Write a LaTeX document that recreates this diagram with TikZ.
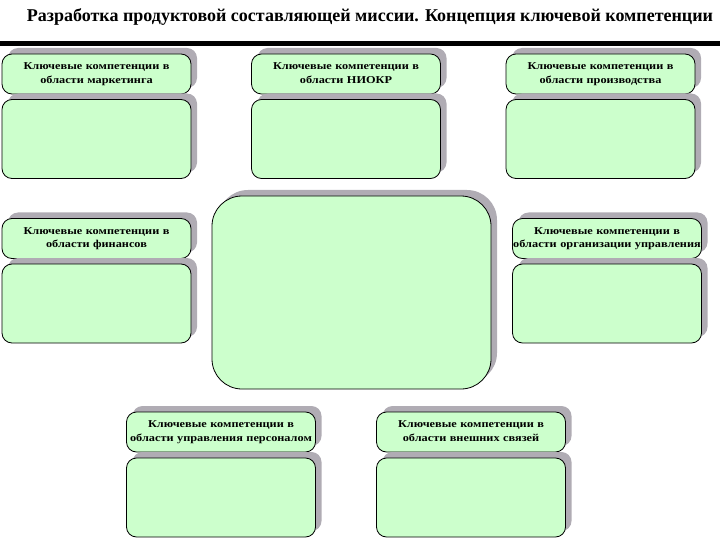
\documentclass[tikz,border=0pt]{standalone}
\usepackage{fontspec}
\setmainfont{Liberation Serif}
\newfontfamily\boxfont[FakeStretch=1.17]{Liberation Serif}
\usetikzlibrary{shadows}
\definecolor{boxgreen}{RGB}{204,255,204}
\definecolor{shadowgrey}{RGB}{176,172,180}
\tikzset{
  panel/.style={draw=black, line width=0.8pt, fill=boxgreen, rounded corners=10pt,
    minimum width=189pt, inner sep=0pt, align=center,
    drop shadow={shadow xshift=6pt, shadow yshift=6pt, fill=shadowgrey, opacity=1}},
  hdr/.style={panel, minimum height=40pt, text width=189pt,
    font=\boxfont\fontsize{10.5}{13.5}\selectfont\bfseries},
  bodybox/.style={panel, minimum height=79pt},
}
\begin{document}
\begin{tikzpicture}[x=1pt,y=-1pt]
\useasboundingbox (0,0) rectangle (720,540);
\node[font=\fontsize{18}{20}\selectfont\bfseries] (title) at (370,17) {Разработка продуктовой составляющей миссии. Концепция ключевой компетенции};
\fill[black] (0,41) rectangle (720,46);
% top row
\node[hdr] (h1) at (96.5,74) {\strut Ключевые компетенции в\\\strut области маркетинга};
\node[bodybox] (b1) at (96.5,139) {};
\node[hdr] (h2) at (346,74) {\strut Ключевые компетенции в\\\strut области НИОКР};
\node[bodybox] (b2) at (346,139) {};
\node[hdr] (h3) at (600.5,74) {\strut Ключевые компетенции в\\\strut области производства};
\node[bodybox] (b3) at (600.5,139) {};
% middle row
\node[hdr] (h4) at (96.5,238.5) {\strut Ключевые компетенции в\\\strut области финансов};
\node[bodybox] (b4) at (96.5,303.5) {};
\node[hdr] (h5) at (607,238.5) {\strut Ключевые компетенции в\\\strut области организации управления};
\node[bodybox] (b5) at (607,303.5) {};
% center
\node[panel, rounded corners=30pt, minimum width=279pt, minimum height=193pt] (c) at (351.5,292.5) {};
% bottom row
\node[hdr] (h6) at (221,432) {\strut Ключевые компетенции в\\\strut области управления персоналом};
\node[bodybox] (b6) at (221,497.5) {};
\node[hdr] (h7) at (471,432) {\strut Ключевые компетенции в\\\strut области внешних связей};
\node[bodybox] (b7) at (471,497.5) {};
\end{tikzpicture}
\end{document}
